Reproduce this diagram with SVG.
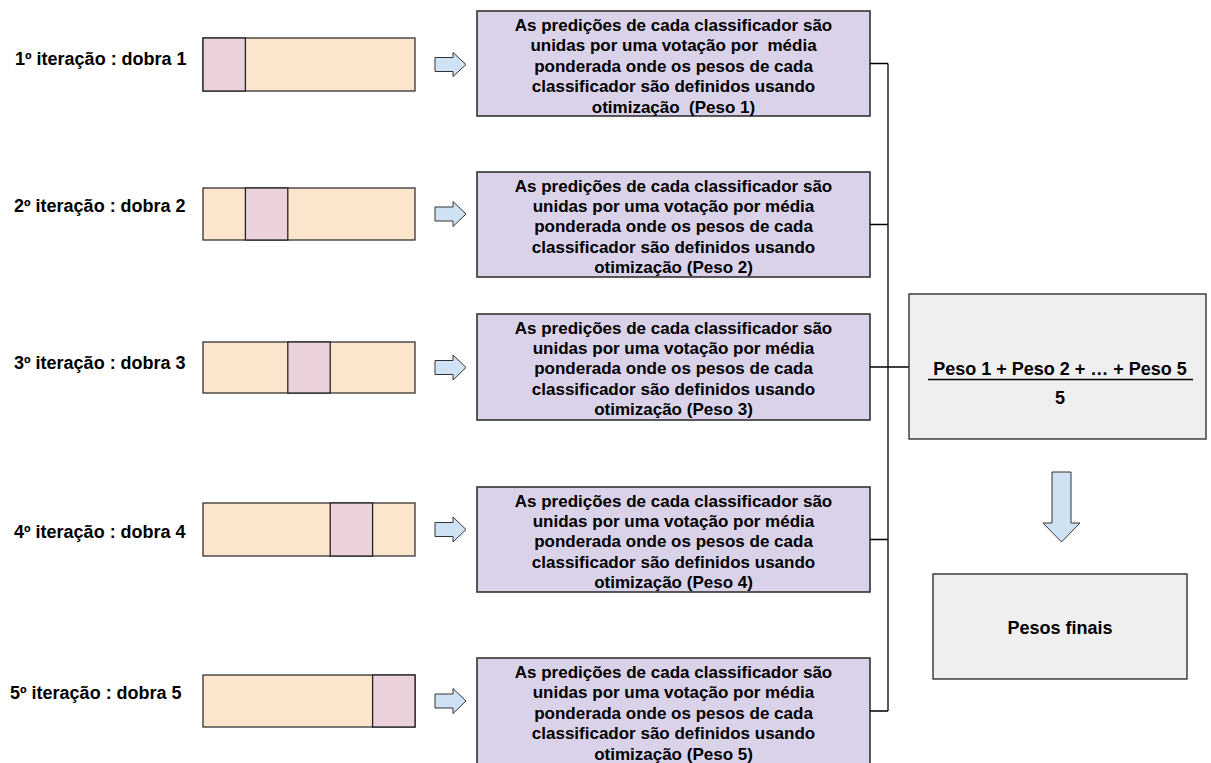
<svg xmlns="http://www.w3.org/2000/svg" width="1211" height="763" viewBox="0 0 1211 763">
<style>
text{font-family:"Liberation Sans",Arial,sans-serif;font-weight:bold;fill:#000}
.lbl{font-size:18px}
.bt{font-size:17px;text-anchor:middle;white-space:pre}
.bar{fill:#FCE5CD;stroke:#333;stroke-width:1.3}
.fold{fill:#EAD1DC;stroke:#222;stroke-width:1.3}
.arr{fill:#CFE2F3;stroke:#333;stroke-width:1}
.box{fill:#D9D2E9;stroke:#333;stroke-width:1.6}
.gbox{fill:#EFEFEF;stroke:#333;stroke-width:1.4}
.con{fill:none;stroke:#000;stroke-width:1.3}
</style>
<g id="row1">
<text class="lbl" x="15" y="64.5">1º iteração : dobra 1</text>
<rect class="bar" x="203" y="38" width="212" height="53"/>
<rect class="fold" x="203" y="38" width="42.4" height="53"/>
<path class="arr" d="M435,57.5H453V52.5L466,64.5L453,76.5V71.5H435Z"/>
</g>
<g id="row2">
<text class="lbl" x="14" y="212">2º iteração : dobra 2</text>
<rect class="bar" x="203" y="188" width="212" height="52"/>
<rect class="fold" x="245.4" y="188" width="42.4" height="52"/>
<path class="arr" d="M435,207H453V201.5L466,214L453,226.5V221H435Z"/>
</g>
<g id="row3">
<text class="lbl" x="14" y="369">3º iteração : dobra 3</text>
<rect class="bar" x="203" y="342" width="212" height="51"/>
<rect class="fold" x="287.8" y="342" width="42.4" height="51"/>
<path class="arr" d="M435,360.5H453V355L466,367.5L453,380V374.5H435Z"/>
</g>
<g id="row4">
<text class="lbl" x="14" y="538">4º iteração : dobra 4</text>
<rect class="bar" x="203" y="503" width="212" height="53"/>
<rect class="fold" x="330.2" y="503" width="42.4" height="53"/>
<path class="arr" d="M435,522.5H453V517L466,529.5L453,542V536.5H435Z"/>
</g>
<g id="row5">
<text class="lbl" x="10" y="699">5º iteração : dobra 5</text>
<rect class="bar" x="203" y="675" width="212" height="52"/>
<rect class="fold" x="372.6" y="675" width="42.4" height="52"/>
<path class="arr" d="M435,694H453V688.5L466,701L453,713.5V708H435Z"/>
</g>
<g id="box1">
<rect class="box" x="477" y="11" width="393" height="105"/>
<text class="bt" x="673.5" y="31">As predições de cada classificador são</text>
<text class="bt" x="673.5" y="51.4">unidas por uma votação por  média</text>
<text class="bt" x="673.5" y="71.8">ponderada onde os pesos de cada</text>
<text class="bt" x="673.5" y="92.2">classificador são definidos usando</text>
<text class="bt" x="673.5" y="112.6">otimização  (Peso 1)</text>
</g>
<g id="box2">
<rect class="box" x="477" y="172" width="393" height="105"/>
<text class="bt" x="673.5" y="191.5">As predições de cada classificador são</text>
<text class="bt" x="673.5" y="211.9">unidas por uma votação por média</text>
<text class="bt" x="673.5" y="232.3">ponderada onde os pesos de cada</text>
<text class="bt" x="673.5" y="252.7">classificador são definidos usando</text>
<text class="bt" x="673.5" y="273.1">otimização (Peso 2)</text>
</g>
<g id="box3">
<rect class="box" x="477" y="314" width="393" height="106"/>
<text class="bt" x="673.5" y="333.5">As predições de cada classificador são</text>
<text class="bt" x="673.5" y="353.9">unidas por uma votação por média</text>
<text class="bt" x="673.5" y="374.3">ponderada onde os pesos de cada</text>
<text class="bt" x="673.5" y="394.7">classificador são definidos usando</text>
<text class="bt" x="673.5" y="415.1">otimização (Peso 3)</text>
</g>
<g id="box4">
<rect class="box" x="477" y="487" width="393" height="105"/>
<text class="bt" x="673.5" y="506.5">As predições de cada classificador são</text>
<text class="bt" x="673.5" y="526.9">unidas por uma votação por média</text>
<text class="bt" x="673.5" y="547.3">ponderada onde os pesos de cada</text>
<text class="bt" x="673.5" y="567.7">classificador são definidos usando</text>
<text class="bt" x="673.5" y="588.1">otimização (Peso 4)</text>
</g>
<g id="box5">
<rect class="box" x="477" y="658" width="393" height="106"/>
<text class="bt" x="673.5" y="678">As predições de cada classificador são</text>
<text class="bt" x="673.5" y="698.4">unidas por uma votação por média</text>
<text class="bt" x="673.5" y="718.8">ponderada onde os pesos de cada</text>
<text class="bt" x="673.5" y="739.2">classificador são definidos usando</text>
<text class="bt" x="673.5" y="759.6">otimização (Peso 5)</text>
</g>
<g id="connectors">
<path class="con" d="M870,63.5H888M870,224.5H888M870,367H909M870,539.5H888M870,711H888M888,63.5V711"/>
</g>
<g id="media">
<rect class="gbox" x="909" y="294" width="297" height="145"/>
<text x="1060" y="375" style="font-size:18px;text-anchor:middle">Peso 1 + Peso 2 + … + Peso 5</text>
<line x1="928" y1="379.5" x2="1193" y2="379.5" stroke="#000" stroke-width="1.3"/>
<text x="1060" y="404" style="font-size:18px;text-anchor:middle">5</text>
</g>
<g id="down-arrow">
<path class="arr" d="M1052,472H1071V523H1080L1061.5,542L1043,523H1052Z"/>
</g>
<g id="final">
<rect class="gbox" x="933" y="574" width="254" height="105"/>
<text x="1060" y="634" style="font-size:18px;text-anchor:middle">Pesos finais</text>
</g>
</svg>
